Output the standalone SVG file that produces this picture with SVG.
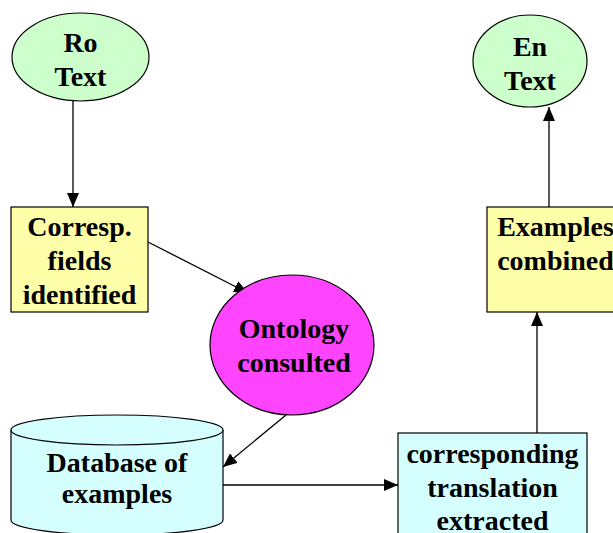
<svg xmlns="http://www.w3.org/2000/svg" width="613" height="533" viewBox="0 0 613 533">
<style>
.t{font-weight:bold;font-size:28px;fill:#000;text-anchor:middle}
.s{stroke:#000;stroke-width:1.2}
.c{stroke:#000;stroke-width:1.3;fill:none;marker-end:url(#ah)}
</style>
<defs>
<marker id="ah" viewBox="0 0 14 12" refX="14" refY="6" markerWidth="14" markerHeight="12" markerUnits="userSpaceOnUse" orient="auto">
<path d="M0,0 L14,6 L0,12 Z" fill="#000"/>
</marker>
</defs>
<rect width="613" height="533" fill="#fff"/>
<g id="connectors">
<line class="c" x1="73" y1="101" x2="73" y2="207"/>
<line class="c" x1="148" y1="242" x2="248" y2="293"/>
<line class="c" x1="286" y1="415" x2="223" y2="467"/>
<line class="c" x1="223" y1="485" x2="398" y2="485"/>
<line class="c" x1="537" y1="433" x2="537" y2="312"/>
<line class="c" x1="549" y1="207" x2="549" y2="107"/>
</g>
<g font-family="Liberation Serif, Times New Roman, serif">
<g id="ro-text">
<ellipse class="s" cx="80.5" cy="57" rx="68.5" ry="44" fill="#CCFFCC"/>
<text class="t" x="80.5" y="52">Ro</text>
<text class="t" x="80.5" y="86">Text</text>
</g>
<g id="en-text">
<ellipse class="s" cx="530" cy="61" rx="57" ry="46" fill="#CCFFCC"/>
<text class="t" x="530" y="56">En</text>
<text class="t" x="530" y="90">Text</text>
</g>
<g id="corresp-fields">
<rect class="s" x="11" y="207" width="137" height="105" fill="#FFFFAA"/>
<text class="t" x="79.5" y="236">Corresp.</text>
<text class="t" x="79.5" y="270">fields</text>
<text class="t" x="79.5" y="304">identified</text>
</g>
<g id="examples-combined">
<rect class="s" x="487" y="207" width="137" height="105" fill="#FFFFAA"/>
<text class="t" x="555.5" y="236">Examples</text>
<text class="t" x="555.5" y="270">combined</text>
</g>
<g id="ontology">
<ellipse class="s" cx="292" cy="345" rx="82" ry="70" fill="#FF44FF"/>
<text class="t" x="294" y="338">Ontology</text>
<text class="t" x="294" y="372">consulted</text>
</g>
<g id="database">
<path class="s" d="M11,430 L11,520 A106,15 0 0 0 223,520 L223,430" fill="#D5FFFF"/>
<ellipse class="s" cx="117" cy="430" rx="106" ry="15" fill="#D5FFFF"/>
<text class="t" x="117" y="472">Database of</text>
<text class="t" x="117" y="503">examples</text>
</g>
<g id="translation-extracted">
<rect class="s" x="398" y="433" width="189" height="110" fill="#D5FFFF"/>
<text class="t" x="492.5" y="463">corresponding</text>
<text class="t" x="492.5" y="497">translation</text>
<text class="t" x="492.5" y="530">extracted</text>
</g>
</g>
</svg>
